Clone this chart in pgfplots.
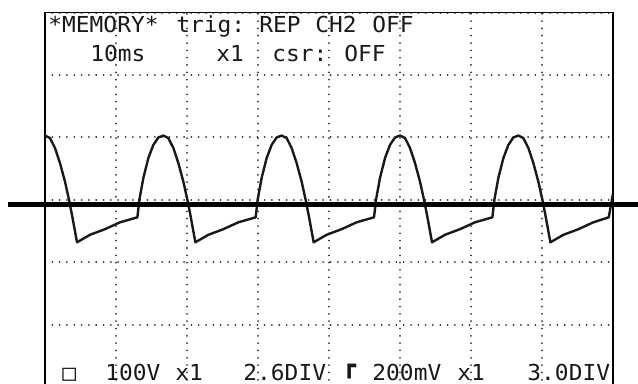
\documentclass[border=0pt]{standalone}
\usepackage{pgfplots}
\pgfplotsset{compat=1.18}
\usepackage{fontspec}
\newfontfamily\oscfont[FakeStretch=1.04]{DejaVu Sans Mono}
\tikzset{osc/.style={anchor=base west, inner sep=0pt, text=black!90, font=\oscfont\fontsize{11}{13}\selectfont},
  oscb/.style={osc, text depth=0pt}}
\begin{document}
\begin{tikzpicture}
\begin{axis}[
  scale only axis, width=284pt, height=187.25pt,
  xmin=0, xmax=80, ymin=0, ymax=6,
  xtick={0,10,...,80}, ytick={0,1,...,6},
  xticklabels={}, yticklabels={},
  major tick length=0pt,
  grid=major,
  major grid style={black!80, line width=1pt, line cap=round, dash pattern=on 0.01pt off 3.65pt},
  axis line style={black, line width=0.8pt},
  clip=false,
]
% waveform (x in ms, y in divisions)
\addplot[black!90, line width=1.2pt, line join=round] coordinates {
(0,4.03) (0.70,3.99) (1.41,3.83) (2.11,3.59) (2.82,3.29) (3.38,3.00) (3.80,2.76) (4.51,2.32) (6.34,2.44) (8.45,2.53) (10.56,2.64) (13.01,2.72)
(13.29,3.00) (13.85,3.35) (14.56,3.67) (15.26,3.88) (15.97,4.00) (16.67,4.03) (17.37,3.99) (18.08,3.83) (18.78,3.59) (19.49,3.29) (20.05,3.00) (20.47,2.76) (21.18,2.32) (23.01,2.44) (25.12,2.53) (27.23,2.64) (29.67,2.72)
(29.95,3.00) (30.51,3.35) (31.22,3.67) (31.92,3.88) (32.63,4.00) (33.33,4.03) (34.03,3.99) (34.74,3.83) (35.44,3.59) (36.15,3.29) (36.71,3.00) (37.13,2.76) (37.84,2.32) (39.67,2.44) (41.78,2.53) (43.89,2.64) (46.34,2.72)
(46.62,3.00) (47.18,3.35) (47.89,3.67) (48.59,3.88) (49.30,4.00) (50,4.03) (50.70,3.99) (51.41,3.83) (52.11,3.59) (52.82,3.29) (53.38,3.00) (53.80,2.76) (54.51,2.32) (56.34,2.44) (58.45,2.53) (60.56,2.64) (63.01,2.72)
(63.29,3.00) (63.85,3.35) (64.56,3.67) (65.26,3.88) (65.97,4.00) (66.67,4.03) (67.37,3.99) (68.08,3.83) (68.78,3.59) (69.49,3.29) (70.05,3.00) (70.47,2.76) (71.18,2.32) (73.01,2.44) (75.12,2.53) (77.23,2.64) (79.40,2.72) (80,3.10)
};
% thick reference line
\addplot[black, line width=2.5pt] coordinates {(-5.21,2.93) (86,2.93)};
% screen text
\node[osc] at (axis cs:0.42,5.689) {*MEMORY*};
\node[osc] at (axis cs:18.45,5.689) {trig:};
\node[osc] at (axis cs:30.14,5.689) {REP};
\node[osc] at (axis cs:38.03,5.689) {CH2};
\node[osc] at (axis cs:46.06,5.689) {OFF};
\node[osc] at (axis cs:6.34,5.224) {10ms};
\node[osc] at (axis cs:24.08,5.224) {x1};
\node[osc] at (axis cs:31.97,5.224) {csr:};
\node[osc] at (axis cs:42.11,5.224) {OFF};
\node[oscb] at (axis cs:2.39,0.112) {□};
\node[oscb] at (axis cs:8.45,0.112) {100V};
\node[oscb] at (axis cs:18.31,0.112) {x1};
\node[oscb] at (axis cs:27.89,0.112) {2.6DIV};
\node[oscb] at (axis cs:41.83,0.112) {\raisebox{3.5pt}{\smash{┏}}};
\node[oscb] at (axis cs:46.06,0.112) {200mV};
\node[oscb] at (axis cs:58.03,0.112) {x1};
\node[oscb] at (axis cs:67.89,0.112) {3.0DIV};
\coordinate (BL) at (axis cs:-6.338,0.064);
\coordinate (TR) at (axis cs:83.52,6.202);
\end{axis}
\pgfresetboundingbox
\path[use as bounding box] (BL) rectangle (TR);
\end{tikzpicture}
\end{document}
